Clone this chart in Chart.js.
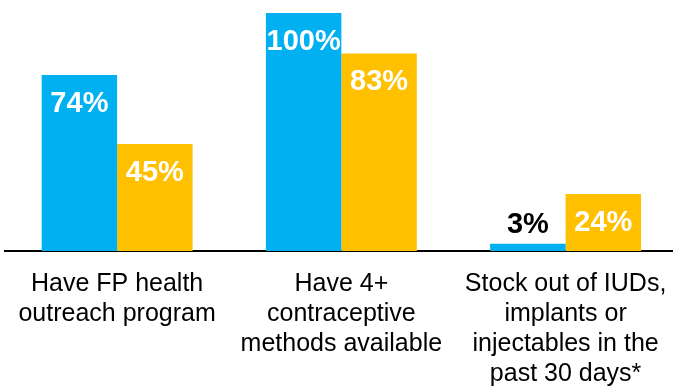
<!DOCTYPE html>
<html>
<head>
<meta charset="utf-8">
<script src="https://cdn.jsdelivr.net/npm/chart.js@4.4.0/dist/chart.umd.min.js"></script>
<style>
  html, body { margin: 0; padding: 0; background: #fff; overflow: hidden; }
  #wrap { position: absolute; left: 0; top: 0; width: 685px; height: 407px; }
</style>
</head>
<body>
<div id="wrap"><canvas id="fpChart"></canvas></div>
<script>
// Categories and the two facility series (percent)
const categories = [
    ['Have FP health', 'outreach program'],
    ['Have 4+', 'contraceptive', 'methods available'],
    ['Stock out of IUDs,', 'implants or', 'injectables in the', 'past 30 days*']
];
const seriesBlue = [74, 100, 3];
const seriesGold = [45, 83, 24];

const BLUE = '#00B0F0';
const GOLD = '#FFC000';
const FONT = "'Liberation Sans', Arial, Helvetica, sans-serif";

// Draws the value on each bar: white inside tall bars, black above short ones
const valueLabels = {
    id: 'valueLabels',
    afterDatasetsDraw(chart) {
        const ctx = chart.ctx;
        ctx.save();
        ctx.font = 'bold 29px ' + FONT;
        ctx.textAlign = 'center';
        ctx.textBaseline = 'middle';
        chart.data.datasets.forEach((ds, di) => {
            chart.getDatasetMeta(di).data.forEach((bar, i) => {
                const value = ds.data[i];
                const height = bar.base - bar.y;
                if (height > 45) {
                    ctx.fillStyle = '#fff';
                    ctx.fillText(value + '%', bar.x, bar.y + 29);
                } else {
                    ctx.fillStyle = '#000';
                    ctx.fillText(value + '%', bar.x, bar.y - 19);
                }
            });
        });
        ctx.restore();
    }
};

new Chart(document.getElementById('fpChart'), {
    type: 'bar',
    data: {
        labels: categories,
        datasets: [
            {
                data: seriesBlue,
                backgroundColor: BLUE,
                borderWidth: 0,
                barPercentage: 1,
                categoryPercentage: 0.673
            },
            {
                data: seriesGold,
                backgroundColor: GOLD,
                borderWidth: 0,
                barPercentage: 1,
                categoryPercentage: 0.673
            }
        ]
    },
    options: {
        responsive: true,
        maintainAspectRatio: false,
        animation: false,
        layout: {
            padding: { left: 5, right: 4, top: 13, bottom: 0 }
        },
        plugins: {
            legend: { display: false },
            tooltip: { enabled: false }
        },
        scales: {
            x: {
                grid: { display: false, drawTicks: false },
                border: { display: true, color: '#000', width: 2 },
                ticks: {
                    color: '#000',
                    padding: 18,
                    maxRotation: 0,
                    autoSkip: false,
                    font: { family: FONT, size: 25, lineHeight: 1.2 }
                }
            },
            y: {
                display: false,
                min: 0,
                max: 100
            }
        }
    },
    plugins: [valueLabels]
});
</script>
</body>
</html>
